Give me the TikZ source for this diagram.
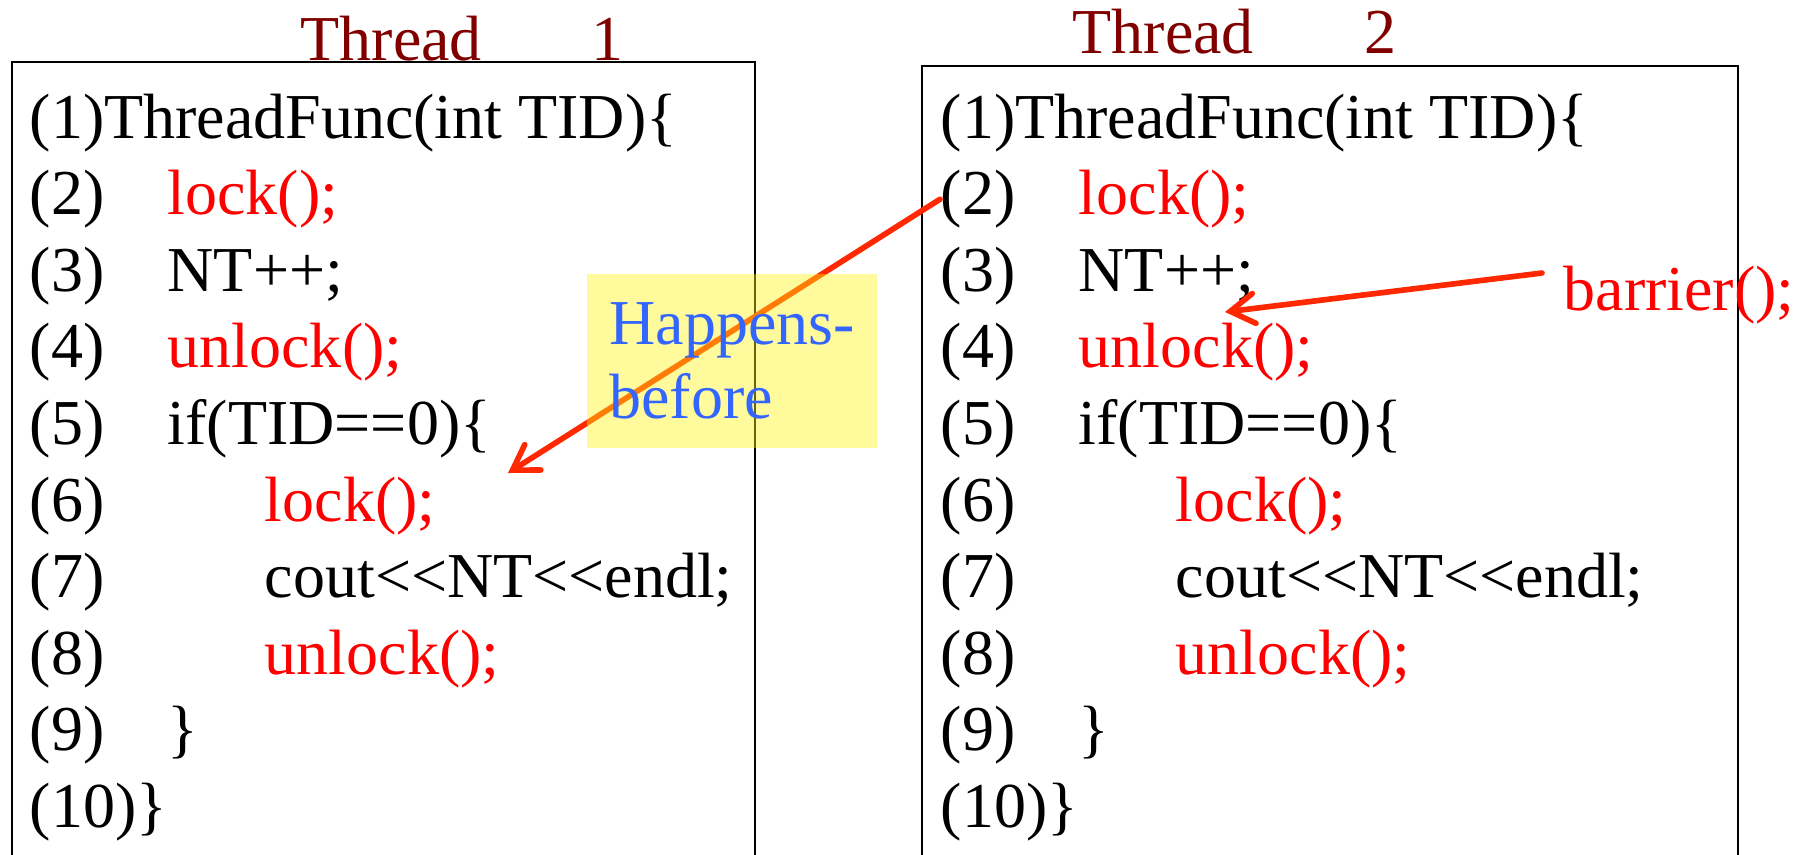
\documentclass[tikz,border=0pt]{standalone}
\usepackage{fontspec}
\setmainfont{Liberation Serif}
\usetikzlibrary{arrows.meta}
\definecolor{titlered}{RGB}{128,0,0}
\definecolor{codered}{RGB}{255,0,0}
\definecolor{arrowred}{RGB}{255,40,0}
\definecolor{hbblue}{RGB}{51,102,255}
\definecolor{noteyellow}{RGB}{255,242,18}
\newcommand{\Ln}[3]{\makebox[#2][l]{(#1)}#3}
\newcommand{\Red}[1]{\textcolor{codered}{#1}}
\newcommand{\shl}{<\kern0pt<}
\newcommand{\CodeLines}[2]{
  \foreach \txt [count=\i] in {
    {(1)ThreadFunc(int TID)\{},
    {\Ln{2}{1.38cm}{\Red{lock();}}},
    {\Ln{3}{1.38cm}{NT++;}},
    {\Ln{4}{1.38cm}{\Red{unlock();}}},
    {\Ln{5}{1.38cm}{if(TID==0)\{}},
    {\Ln{6}{2.35cm}{\Red{lock();}}},
    {\Ln{7}{2.35cm}{cout\shl NT\shl endl;}},
    {\Ln{8}{2.35cm}{\Red{unlock();}}},
    {\Ln{9}{1.38cm}{\}}},
    {(10)\}}
  }{
    \node[codeline] (#1\i) at (#2,{138+76.6*(\i-1)}) {\txt};
  }
}

\begin{document}
\begin{tikzpicture}[x=0.01cm, y=-0.01cm,
  codeline/.style={anchor=base west, inner sep=0pt,
    font=\fontsize{18.2pt}{21.8pt}\selectfont},
  codebox/.style={draw=black, line width=0.6pt},
  hbarrow/.style={draw=arrowred, line width=1.6pt, line cap=round,
    -{Straight Barb[length=2.4mm, width=3mm, line cap=round]}},
  hbnote/.style={fill=noteyellow, fill opacity=0.42, text opacity=1,
    text=hbblue, inner sep=0pt, align=left,
    minimum width=2.9cm, minimum height=1.74cm,
    font=\fontsize{18.2pt}{21.06pt}\selectfont}]
  \clip (0,0) rectangle (1807,854);

  % thread boxes and titles
  \draw[codebox] (12,62) rectangle (755,900);
  \draw[codebox] (922,66) rectangle (1738,900);
  \node[codeline, text=titlered] (T1) at (300,60) {Thread\hspace{1.1cm}1};
  \node[codeline, text=titlered] (T2) at (1072,53) {Thread\hspace{1.1cm}2};

  \CodeLines{A}{29}
  \CodeLines{B}{940}

  \node[codeline, text=codered] (barrier) at (1563,310) {barrier();};

  % arrows
  \coordinate (HBTip) at (508,473);
  \coordinate (BarStart) at (1542,273);
  \coordinate (BarTip) at (1225,312);
  \draw[hbarrow] (B2.west) -- (HBTip);
  \draw[hbarrow] (BarStart) -- (BarTip);

  \node[hbnote] (hb) at (732,361) {Happens-\\before};
\end{tikzpicture}
\end{document}
